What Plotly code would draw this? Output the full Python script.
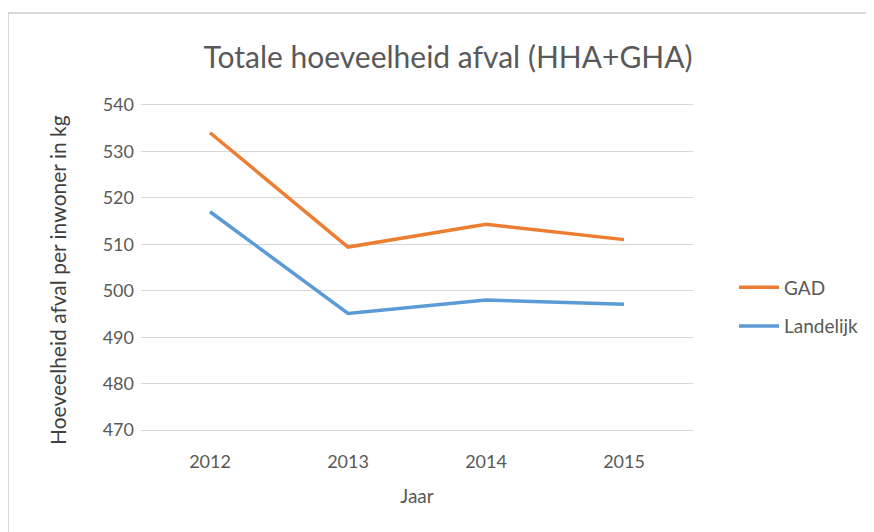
import plotly.graph_objects as go

YEARS = ["2012", "2013", "2014", "2015"]
GAD = [534, 509.4, 514.3, 511]
LANDELIJK = [517, 495.1, 498, 497.1]

ORANGE = "#ED7D31"
BLUE = "#5B9BD5"
TEXT = "#595959"
FONT = "Lato"

# plot area in figure pixels (page has an 8px body margin)
L, R, T, B = 133, 189, 95, 108
PW, PH = 874 - L - R, 532 - T - B

fig = go.Figure()
fig.add_trace(go.Scatter(
    x=YEARS, y=GAD, mode="lines", name="GAD", legendgroup="gad",
    line=dict(color=ORANGE, width=3.5),
))
fig.add_trace(go.Scatter(
    x=YEARS, y=LANDELIJK, mode="lines", name="Landelijk", legendgroup="land",
    line=dict(color=BLUE, width=3.5),
))

fig.update_layout(
    width=874, height=532,
    margin=dict(l=L, r=R, t=T, b=B),
    paper_bgcolor="white", plot_bgcolor="white",
    font=dict(family=FONT, color=TEXT, size=18),
    title=dict(
        text="Totale hoeveelheid afval (HHA+GHA)",
        x=440 / 874, xanchor="center", y=1 - 49 / 532, yanchor="middle",
        font=dict(size=30, color=TEXT, family=FONT),
    ),
    legend=dict(
        x=(726 - L) / PW, xanchor="left", y=(532 - B - 299) / PH, yanchor="middle",
        traceorder="grouped", tracegroupgap=11,
        font=dict(size=19, color=TEXT), itemwidth=40,
    ),
    # y-axis title placed by hand, it sits a bit below the plot centre
    annotations=[dict(
        text="Hoeveelheid afval per inwoner in kg", textangle=-90,
        xref="paper", yref="paper", x=(49 - L) / PW, y=(532 - B - 272) / PH,
        xanchor="center", yanchor="middle", showarrow=False,
        font=dict(size=21, color="#404040"),
    )],
    shapes=[dict(
        type="rect", xref="paper", yref="paper",
        x0=-L / PW, x1=1.5, y0=-0.5, y1=(532 - 5 - B) / PH,
        line=dict(color="#D9D9D9", width=2), fillcolor="rgba(0,0,0,0)",
        layer="below",
    )],
)
fig.update_xaxes(
    type="category", range=[-0.5, 3.5], showgrid=False, showline=False,
    ticks="", ticklabelstandoff=17, tickfont=dict(size=18, color=TEXT),
    title=dict(text="Jaar", font=dict(size=19, color=TEXT), standoff=18),
)
fig.update_yaxes(
    range=[469.6, 540.4], tickvals=[470, 480, 490, 500, 510, 520, 530, 540],
    showgrid=True, gridcolor="#D9D9D9", gridwidth=1.3,
    zeroline=False, showline=False, ticks="", ticklabelstandoff=6,
    tickfont=dict(size=18, color=TEXT),
)

fig.write_html("out.html")
